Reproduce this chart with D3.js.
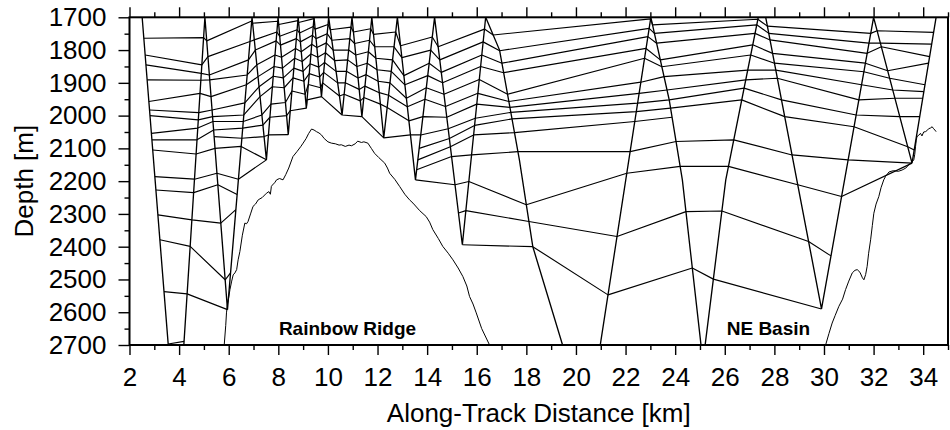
<!DOCTYPE html>
<html><head><meta charset="utf-8">
<script src="https://cdn.jsdelivr.net/npm/d3@7"></script>
<style>
body{margin:0;background:#fff}
svg{display:block}
text{font-family:"Liberation Sans",Arial,Helvetica,sans-serif;fill:#000}
</style>
</head><body>
<svg id="chart" width="950" height="430"></svg>
<script>
// ---------------- data ----------------
// tow-yo vehicle track (along-track km, depth m)
const towKm = [2.51,3.91,5.04,5.95,6.94,7.52,7.99,8.40,8.80,9.13,9.44,9.74,10.03,10.57,10.97,11.37,11.77,12.25,12.80,13.53,14.30,15.42,16.36,16.92,17.72,18.26,19.46,20.47,23.02,23.76,24.29,25.04,25.12,25.21,26.04,27.35,27.50,27.65,29.90,32.00,33.55,34.52];
const towDepth = [1700,3030,1700,2592,1700,2135,1700,2058,1700,1977,1700,1942,1700,1998,1700,2003,1700,2068,1700,2196,1700,2394,1700,1800,2135,2400,2700,2950,1700,1952,2196,2699,2716,2699,2196,1700,1690,1700,2590,1700,2145,1700];

// bathymetry: Rainbow Ridge section and NE Basin section
const ridgeKm = [5.76,5.82,5.88,5.91,5.95,6.0,6.05,6.12,6.18,6.25,6.32,6.38,6.45,6.55,6.65,6.72,6.78,6.88,6.98,7.08,7.19,7.35,7.52,7.62,7.68,7.72,7.76,7.85,7.93,8.05,8.19,8.3,8.42,8.59,8.75,8.9,9.0,9.12,9.22,9.34,9.44,9.54,9.64,9.74,9.85,10.0,10.14,10.3,10.45,10.54,10.7,10.85,10.95,11.1,11.2,11.35,11.45,11.61,11.75,11.88,12.05,12.29,12.4,12.49,12.7,12.89,13.1,13.29,13.43,13.7,13.96,14.1,14.23,14.45,14.63,14.85,15.04,15.25,15.44,15.6,15.71,15.85,15.98,16.2,16.51,16.56];
const ridgeDepth = [2730,2699,2640,2602,2575,2555,2531,2505,2486,2480,2470,2440,2415,2365,2328,2330,2323,2300,2277,2270,2257,2250,2237,2232,2240,2216,2212,2205,2196,2192,2196,2180,2160,2125,2110,2095,2084,2070,2055,2041,2044,2049,2053,2059,2070,2080,2084,2086,2090,2089,2094,2090,2092,2086,2078,2082,2080,2084,2100,2115,2128,2145,2160,2176,2195,2216,2240,2257,2267,2290,2308,2325,2348,2375,2399,2420,2440,2465,2491,2520,2552,2575,2602,2650,2699,2715];
const basinKm = [30.02,30.07,30.2,30.33,30.45,30.6,30.75,30.87,31.0,31.14,31.25,31.34,31.45,31.55,31.61,31.68,31.74,31.8,31.88,31.95,32.01,32.1,32.21,32.3,32.41,32.48,32.62,32.8,33.0,33.15,33.3,33.42,33.52,33.62,33.66,33.69,33.72,33.75,33.82,33.89,33.95,34.02,34.09,34.15,34.22,34.29,34.36,34.42,34.47,34.52];
const basinDepth = [2720,2699,2665,2633,2610,2582,2560,2531,2505,2480,2472,2470,2478,2495,2501,2485,2460,2420,2379,2335,2298,2270,2247,2220,2196,2186,2172,2168,2170,2166,2160,2150,2144,2135,2118,2095,2075,2064,2060,2054,2062,2050,2049,2046,2040,2038,2034,2040,2044,2049];

// contour lines: starting leg index of the tow track and depth where each successive leg is crossed
const isoStart = [0,0,0,0,0,0,0,0,0,0,2,0,0,0,0,0,0,19,19,19,18,20,20];
const isoDepths = [
  [1764,1762,1772,1711,1718,1712,1722,1710,1716,1704],
  [1815,1845,1820,1774,1769,1745,1758,1738,1748,1728,1736,1722,1738,1730,1745,1735,1752,1745,1787,1760,1790,1736,1754,1705,1723,1706,1727,1749,1741,1746],
  [1845,1871,1876,1830,1800,1772,1785,1765,1775,1755,1765,1750,1770,1765,1780,1770,1790,1790,1823,1800,1830,1775,1802,1734,1749,1723,1749,1779,1779,1782],
  [1891,1892,1891,1876,1845,1815,1822,1795,1805,1782,1792,1778,1800,1800,1815,1805,1825,1830,1878,1840,1868,1815,1840,1759,1779,1749,1769,1810,1790,1820],
  [1957,1932,1942,1906,1881,1850,1855,1825,1835,1812,1822,1808,1832,1830,1850,1840,1860,1865,1906,1878,1900,1850,1869,1795,1830,1784,1810,1840,1863,1840],
  [1983,1991,1983,1961,1912,1880,1885,1855,1865,1842,1852,1838,1865,1865,1885,1875,1895,1900,1947,1915,1935,1890,1935,1825,1851,1815,1840,1866,1886,1906],
  [2000,2013,2003,1998,1942,1912,1915,1885,1895,1872,1882,1868,1900,1900,1920,1910,1930,1938,1973,1950,1972,1932,1957,1898,1881,1861,1861,1906,1922,1927],
  [2054,2038,2018,2018,1998,1965,1960,1925,1935,1905,1915,1900,1940,1935,1955,1945,1965,1975,2016,2003,2005,1965,1975,1932,1922,1891,1886,1952,1947,1947],
  [2074,2074,2044,2038,2029,2005,2000,1985,1977,1952,1942,1942,1998,1998,2003,2003,2068,2068,2059,2059,2040,2008,1990,1962,1952,1916,1952,1998,2003,2003],
  [2105,2117,2100,2094,2135],
  [2064,2069,2064,2059,2058,2058],
  [2186,2194,2176,2194,2135],
  [2227,2235,2211,2241],
  [2303,2318,2328,2287],
  [2379,2399,2501,2480],
  [2537,2544,2592],
  [2697,2689],
  [2100,2070,2030,2010,1988,1977,1952,2003,2034,2095,2105],
  [2135,2095,2059,2052,2018,2005],
  [2165,2125,2120,2110,2110,2079,2074,2120,2135,2145],
  [2196,2196,2211,2201,2272,2176,2155,2155,2211,2247,2145],
  [2297,2290,2323,2369,2293,2291,2384,2428],
  [2394,2394,2400,2547,2465,2499,2590]
];

// axes
const xMajorTicks = [2,4,6,8,10,12,14,16,18,20,22,24,26,28,30,32,34];
const xMinorTicks = [3,5,7,9,11,13,15,17,19,21,23,25,27,29,31,33,35];
const yMajorTicks = [1700,1800,1900,2000,2100,2200,2300,2400,2500,2600,2700];
const yMinorTicks = [1750,1850,1950,2050,2150,2250,2350,2450,2550,2650];
const xTitle = "Along-Track Distance [km]";
const yTitle = "Depth [m]";
const placeNames = ["Rainbow Ridge","NE Basin"];
const placeKm = [10.79,27.76];
const placeDepth = [2669,2669];

// ---------------- drawing ----------------
const box = {left:129.5, right:948, top:17.3, bottom:345};
const svg = d3.select("#chart");
const x = d3.scaleLinear().domain([2,35]).range([box.left, box.right]);
const y = d3.scaleLinear().domain([1700,2700]).range([box.top, box.bottom]);

svg.append("defs").append("clipPath").attr("id","plotclip")
  .append("rect").attr("x",box.left).attr("y",box.top)
  .attr("width",box.right-box.left).attr("height",box.bottom-box.top);

const plot = svg.append("g").attr("clip-path","url(#plotclip)");

// split track into monotonic legs
const track = towKm.map((k,i)=>({km:k, d:towDepth[i]}));
const legs = [];
{
  let cur=[track[0]], dir=0;
  for(let i=1;i<track.length;i++){
    const s = Math.sign(track[i].d - track[i-1].d);
    if(dir===0) dir=s;
    if(s!==dir){ legs.push(cur); cur=[track[i-1]]; dir=s; }
    cur.push(track[i]);
  }
  legs.push(cur);
}
function onLeg(leg, depth){
  for(let i=1;i<leg.length;i++){
    const a=leg[i-1], b=leg[i];
    const lo=Math.min(a.d,b.d), hi=Math.max(a.d,b.d);
    if(depth>=lo && depth<=hi && hi>lo){
      const t=(depth-a.d)/(b.d-a.d);
      return {km:a.km+t*(b.km-a.km), d:depth};
    }
  }
  // clamp to nearest extreme
  let best=leg[0];
  leg.forEach(p=>{ if(Math.abs(p.d-depth)<Math.abs(best.d-depth)) best=p; });
  return {km:best.km, d:best.d};
}

const line = d3.line().x(p=>x(p.km)).y(p=>y(p.d));

// bathymetry
const ridge = ridgeKm.map((k,i)=>({km:k,d:ridgeDepth[i]}));
const basin = basinKm.map((k,i)=>({km:k,d:basinDepth[i]}));
[ridge,basin].forEach(b=>{
  plot.append("path").attr("d",line(b)).attr("fill","none")
    .attr("stroke","#000").attr("stroke-width",1.0).attr("stroke-linejoin","round");
});

// isolines
isoDepths.forEach((ds,j)=>{
  const s=isoStart[j];
  const pts = ds.map((dep,i)=>onLeg(legs[s+i], dep));
  plot.append("path").attr("d",line(pts)).attr("fill","none")
    .attr("stroke","#000").attr("stroke-width",1.15).attr("stroke-linejoin","round");
});

// tow track
plot.append("path").attr("d",line(track)).attr("fill","none")
  .attr("stroke","#000").attr("stroke-width",1.35).attr("stroke-linejoin","miter");

// place labels
placeNames.forEach((n,i)=>{
  svg.append("text").attr("x",x(placeKm[i])).attr("y",y(placeDepth[i]))
    .attr("text-anchor","middle").style("font-size","19px").style("font-weight","bold").text(n);
});

// axes
function styleAxis(g){
  g.select(".domain").remove();
  g.selectAll(".tick line").attr("stroke","#000").attr("stroke-width",1.4);
  g.selectAll(".tick text").style("font-size","26px").attr("fill","#000");
}
svg.append("g").attr("transform",`translate(0,${box.bottom})`)
  .call(d3.axisBottom(x).tickValues(xMajorTicks).tickFormat(d3.format("d")).tickSize(10).tickPadding(13))
  .call(styleAxis);
svg.append("g").attr("transform",`translate(0,${box.bottom})`)
  .call(d3.axisBottom(x).tickValues(xMinorTicks).tickFormat("").tickSize(5)).call(styleAxis);
svg.append("g").attr("transform",`translate(0,${box.top})`)
  .call(d3.axisTop(x).tickValues(xMajorTicks).tickFormat("").tickSize(10)).call(styleAxis);
svg.append("g").attr("transform",`translate(0,${box.top})`)
  .call(d3.axisTop(x).tickValues(xMinorTicks).tickFormat("").tickSize(5)).call(styleAxis);
svg.append("g").attr("transform",`translate(${box.left},0)`)
  .call(d3.axisLeft(y).tickValues(yMajorTicks).tickFormat(d3.format("d")).tickSize(11).tickPadding(12))
  .call(styleAxis);
svg.append("g").attr("transform",`translate(${box.left},0)`)
  .call(d3.axisLeft(y).tickValues(yMinorTicks).tickFormat("").tickSize(5)).call(styleAxis);

// frame
svg.append("rect").attr("x",box.left).attr("y",box.top)
  .attr("width",box.right-box.left).attr("height",box.bottom-box.top)
  .attr("fill","none").attr("stroke","#000").attr("stroke-width",2);

// titles
svg.append("text").attr("x",(box.left+box.right)/2).attr("y",422)
  .attr("text-anchor","middle").style("font-size","26px").text(xTitle);
svg.append("text").attr("transform",`translate(33,${(box.top+box.bottom)/2}) rotate(-90)`)
  .attr("text-anchor","middle").style("font-size","26px").text(yTitle);
</script>
</body></html>
